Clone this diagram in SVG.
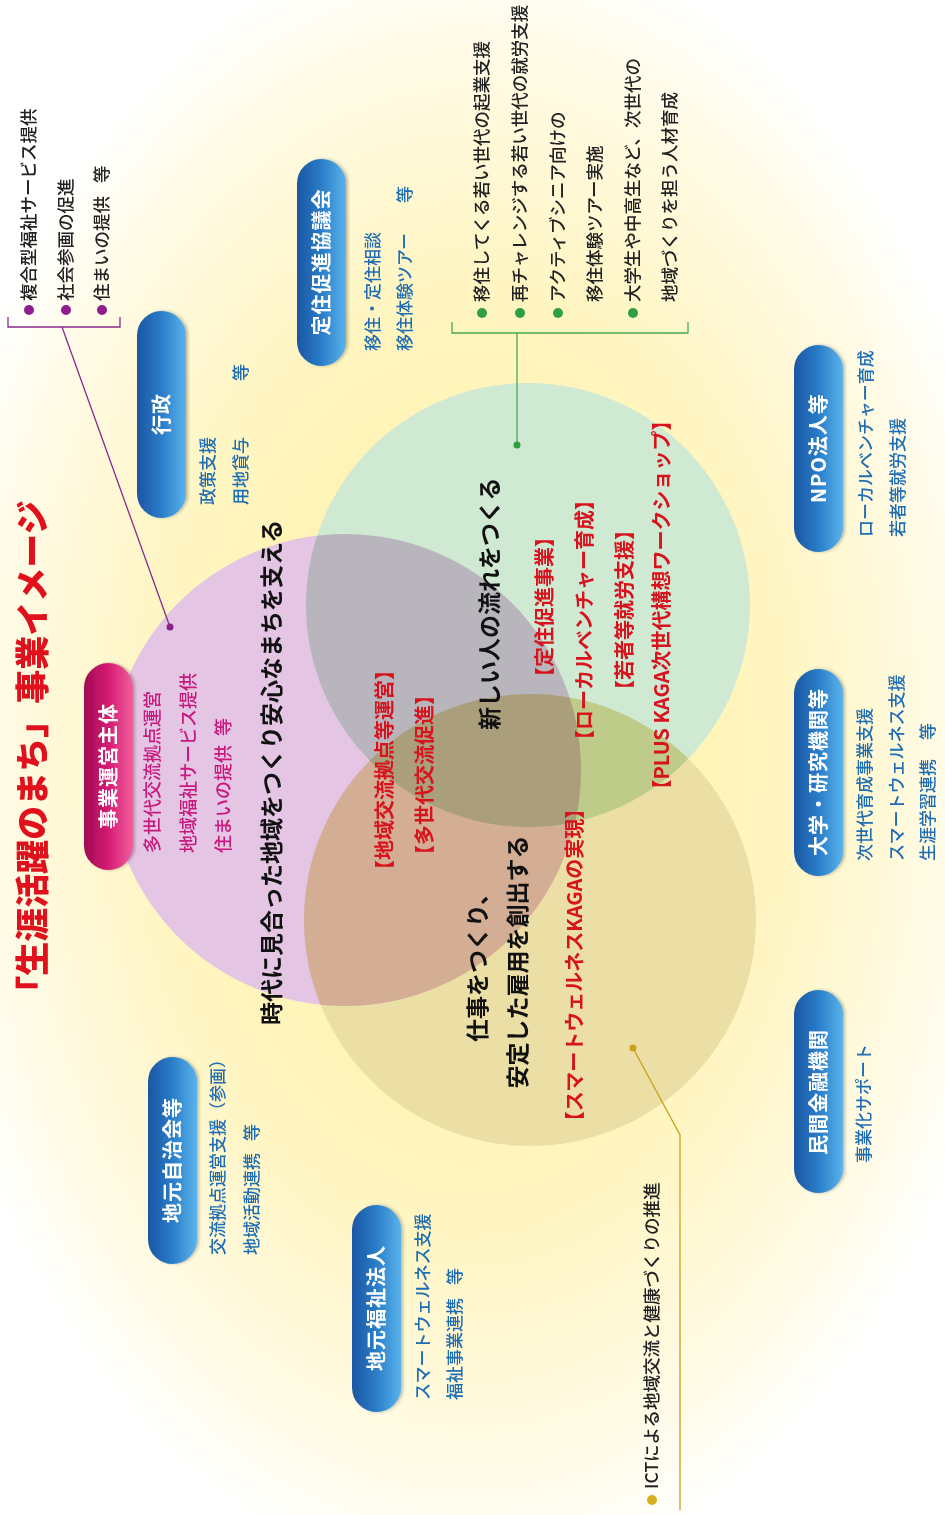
<svg xmlns="http://www.w3.org/2000/svg" width="945" height="1515" viewBox="0 0 945 1515">
<defs>
<radialGradient id="bg" cx="0.5" cy="0.5" r="0.5">
<stop offset="0" stop-color="#fff0a0"/>
<stop offset="0.55" stop-color="#fff5c0"/>
<stop offset="0.85" stop-color="#fffbe6"/>
<stop offset="1" stop-color="#ffffff"/>
</radialGradient>
<linearGradient id="blue" x1="0" y1="0" x2="0" y2="1">
<stop offset="0" stop-color="#1b56a4"/>
<stop offset="0.5" stop-color="#2a7dc8"/>
<stop offset="1" stop-color="#5ab4ec"/>
</linearGradient>
<linearGradient id="mag" x1="0" y1="0" x2="0" y2="1">
<stop offset="0" stop-color="#a00a52"/>
<stop offset="0.5" stop-color="#d61b74"/>
<stop offset="1" stop-color="#f0609e"/>
</linearGradient>
<filter id="sh" x="-10%" y="-20%" width="120%" height="150%">
<feDropShadow dx="0" dy="2" stdDeviation="1.5" flood-color="#000" flood-opacity="0.25"/>
</filter>
</defs>
<style>
.t{font-family:'Noto Sans CJK JP','Noto Sans CJK SC',sans-serif;}
.pl{fill:#fff;font-weight:700;font-size:20px;text-anchor:middle;letter-spacing:1px}
.bl{fill:#1f6db3;font-size:17px;font-weight:500}
.mg{fill:#c8197f;font-size:18px;font-weight:500}
.dk{fill:#222;font-size:17.5px;font-weight:500}
.ctr{fill:#111;font-weight:700;font-size:23px}
.red{fill:#d7141e;font-weight:700;font-size:20px;text-anchor:middle}
.pill{fill:url(#blue);filter:url(#sh)}
.line{fill:none;stroke-width:1.3}
</style>
<rect width="945" height="1515" fill="#ffffff"/>
<g transform="translate(0,1515) rotate(-90)">
<ellipse cx="757" cy="470" rx="830" ry="560" fill="url(#bg)"/>

<g id="circles" style="isolation:isolate">
<circle cx="745" cy="345" r="236" fill="#e4c6e4" style="mix-blend-mode:multiply"/>
<circle cx="910" cy="528" r="222" fill="#cfe9d3" style="mix-blend-mode:multiply"/>
<circle cx="595" cy="530" r="226" fill="#ecdfa6" style="mix-blend-mode:multiply"/>
</g>

<g id="connectors">
<path class="line" stroke="#8a2a8a" d="M1198 8 L1188 8 L1188 120 L1198 120 M1188 62 L888 170"/>
<circle cx="888" cy="170" r="3.5" fill="#8a1f88"/>
<path class="line" stroke="#4aa84e" d="M1193 452 L1182 452 L1182 688 L1193 688 M1182 517 L1070 517"/>
<circle cx="1070" cy="517" r="3.5" fill="#2e9e3e"/>
<path class="line" stroke="#c9a21a" d="M467 633 L380 680 L5 680"/>
<circle cx="467" cy="633" r="3.5" fill="#c9a21a"/>
</g>

<g id="title" class="t">
<text x="760" y="45" fill="#e0101c" font-weight="900" font-size="34" text-anchor="middle">「生涯活躍のまち」事業イメージ</text>
</g>

<g id="list-top" class="t">
<circle cx="1205" cy="29" r="5" fill="#8e1e8e"/>
<circle cx="1205" cy="66" r="5" fill="#8e1e8e"/>
<circle cx="1205" cy="102" r="5" fill="#8e1e8e"/>
<text class="dk" x="1214" y="35" font-size="18">複合型福祉サービス提供</text>
<text class="dk" x="1214" y="72" font-size="18">社会参画の促進</text>
<text class="dk" x="1214" y="108" font-size="18">住まいの提供<tspan x="1332">等</tspan></text>
</g>

<g id="list-green" class="t">
<circle cx="1202" cy="482" r="5" fill="#2ea040"/>
<circle cx="1202" cy="520" r="5" fill="#2ea040"/>
<circle cx="1202" cy="558" r="5" fill="#2ea040"/>
<circle cx="1202" cy="633" r="5" fill="#2ea040"/>
<text class="dk" x="1213" y="488">移住してくる若い世代の起業支援</text>
<text class="dk" x="1213" y="526">再チャレンジする若い世代の就労支援</text>
<text class="dk" x="1213" y="564">アクティブシニア向けの</text>
<text class="dk" x="1213" y="601">移住体験ツアー実施</text>
<text class="dk" x="1213" y="639">大学生や中高生など、次世代の</text>
<text class="dk" x="1213" y="676">地域づくりを担う人材育成</text>
</g>

<g id="list-ict" class="t">
<circle cx="15" cy="652" r="5" fill="#d4b020"/>
<text class="dk" x="26" y="658">ICTによる地域交流と健康づくりの推進</text>
</g>

<g id="center-text" class="t">
<text class="ctr" x="490" y="280">時代に見合った地域をつくり安心なまちを支える</text>
<text class="ctr" x="785" y="498">新しい人の流れをつくる</text>
<text class="ctr" x="553" y="486" text-anchor="middle">仕事をつくり、</text>
<text class="ctr" x="553" y="526" text-anchor="middle">安定した雇用を創出する</text>
<text class="red" x="745" y="392">【地域交流拠点等運営】</text>
<text class="red" x="740" y="432">【多世代交流促進】</text>
<text class="red" x="550" y="582">【スマートウェルネスKAGAの実現】</text>
<text class="red" x="908" y="552">【定住促進事業】</text>
<text class="red" x="895" y="592">【ローカルベンチャー育成】</text>
<text class="red" x="905" y="632">【若者等就労支援】</text>
<text class="red" x="910" y="669" font-size="21">【PLUS KAGA次世代構想ワークショップ】</text>
</g>

<g id="node-jigyo" class="t">
<rect x="645" y="84" width="207" height="49" rx="24.5" fill="url(#mag)" filter="url(#sh)"/>
<text class="pl" x="749" y="116">事業運営主体</text>
<text class="mg" x="662" y="159">多世代交流拠点運営</text>
<text class="mg" x="662" y="195">地域福祉サービス提供</text>
<text class="mg" x="662" y="230">住まいの提供<tspan x="779">等</tspan></text>
</g>

<g id="node-gyosei" class="t">
<rect class="pill" x="997" y="137" width="207" height="49" rx="24.5"/>
<text class="pl" x="1101" y="169">行政</text>
<text class="bl" x="1010" y="214">政策支援</text>
<text class="bl" x="1010" y="247">用地貸与<tspan x="1134">等</tspan></text>
</g>

<g id="node-teiju" class="t">
<rect class="pill" x="1149" y="297" width="207" height="49" rx="24.5"/>
<text class="pl" x="1253" y="329">定住促進協議会</text>
<text class="bl" x="1164" y="379">移住・定住相談</text>
<text class="bl" x="1164" y="411">移住体験ツアー<tspan x="1312">等</tspan></text>
</g>

<g id="node-npo" class="t">
<rect class="pill" x="963" y="794" width="207" height="49" rx="24.5"/>
<text class="pl" x="1067" y="826">NPO法人等</text>
<text class="bl" x="978" y="872">ローカルベンチャー育成</text>
<text class="bl" x="978" y="904">若者等就労支援</text>
</g>

<g id="node-daigaku" class="t">
<rect class="pill" x="639" y="794" width="207" height="49" rx="24.5"/>
<text class="pl" x="743" y="826">大学・研究機関等</text>
<text class="bl" x="654" y="871">次世代育成事業支援</text>
<text class="bl" x="654" y="903">スマートウェルネス支援</text>
<text class="bl" x="654" y="934">生涯学習連携<tspan x="775">等</tspan></text>
</g>

<g id="node-minkan" class="t">
<rect class="pill" x="322" y="794" width="203" height="49" rx="24.5"/>
<text class="pl" x="423" y="826">民間金融機関</text>
<text class="bl" x="352" y="870">事業化サポート</text>
</g>

<g id="node-jichikai" class="t">
<rect class="pill" x="251" y="148" width="207" height="49" rx="24.5"/>
<text class="pl" x="355" y="180">地元自治会等</text>
<text class="bl" x="260" y="224">交流拠点運営支援（参画）</text>
<text class="bl" x="260" y="258">地域活動連携<tspan x="374">等</tspan></text>
</g>

<g id="node-fukushi" class="t">
<rect class="pill" x="103" y="352" width="207" height="49" rx="24.5"/>
<text class="pl" x="207" y="384">地元福祉法人</text>
<text class="bl" x="115" y="429">スマートウェルネス支援</text>
<text class="bl" x="115" y="461">福祉事業連携<tspan x="230">等</tspan></text>
</g>
</g>
</svg>
